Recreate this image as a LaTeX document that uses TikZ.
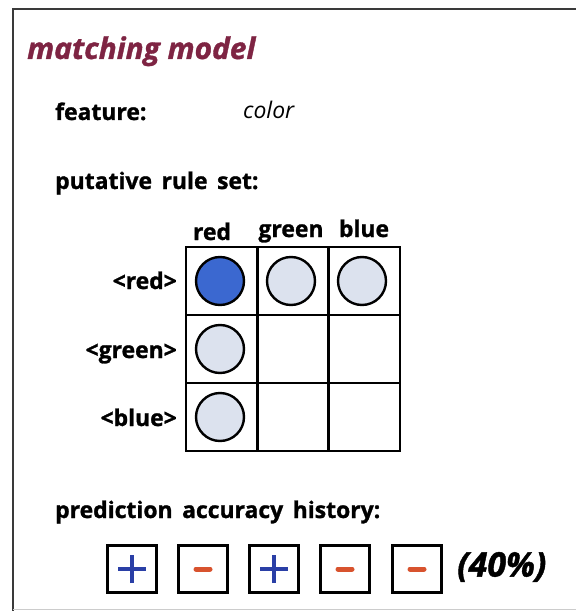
\documentclass[tikz,border=0pt]{standalone}
\usepackage{fontspec}
\setmainfont{Open Sans}
\newfontfamily\heavyfont[BoldFont={* Bold},BoldFeatures={FakeBold=1.2,WordSpace=1.6},BoldItalicFont={* Bold Italic},BoldItalicFeatures={FakeBold=1.2}]{Open Sans}
\definecolor{titlered}{HTML}{7E2443}
\definecolor{dotblue}{HTML}{3B68D0}
\definecolor{dotpale}{HTML}{DCE2EE}
\definecolor{plusblue}{HTML}{2A3FA6}
\definecolor{minusred}{HTML}{D8532E}
\definecolor{framegray}{HTML}{3A3A3A}
\begin{document}
\begin{tikzpicture}[x=1bp,y=-1bp,
  lbl/.style={inner sep=0pt,font=\heavyfont\bfseries\fontsize{23}{26}\selectfont},
  cell/.style={draw=black,line width=2.4bp,minimum width=72bp,minimum height=68bp,inner sep=0pt},
  dot/.style={circle,draw=black,line width=2.4bp,minimum size=48bp,inner sep=0pt,fill=dotpale},
  hbox/.style={draw=black,line width=2.4bp,minimum width=49bp,minimum height=47bp,inner sep=0pt}]
\useasboundingbox (0,0) rectangle (576,611);
% frame
\coordinate (ftl) at (13,9);
\coordinate (fbl) at (13,611);
\coordinate (ftr) at (576,9);
\coordinate (fbr) at (576,609);
\coordinate (fbl2) at (13,609);
\draw[framegray,line width=2.8bp] (fbl) -- (ftl) -- (ftr);
\draw[black!20,line width=1bp] (fbl2) -- (fbr);
% title
\node[anchor=base west,inner sep=0pt,text=titlered,font=\heavyfont\bfseries\itshape\fontsize{30}{32}\selectfont] (title) at (27,59) {matching model};
% feature
\node[lbl,anchor=base west] (feat) at (55,120) {feature:};
\node[anchor=base west,inner sep=0pt,font=\itshape\fontsize{23}{26}\selectfont] (color) at (243,119) {color};
% rule set
\node[lbl,anchor=base west] (rules) at (55,189) {putative rule set:};
% grid cells
\foreach \r/\yy in {1/281,2/349,3/417}{
  \foreach \c/\xx in {1/222,2/293,3/364}{
    \node[cell] (c\r\c) at (\xx,\yy) {};
  }
}
% headers
\node[lbl,anchor=base] (hred) at (212,240) {red};
\node[lbl,anchor=base] (hgreen) at (291,237) {green};
\node[lbl,anchor=base] (hblue) at (364,237) {blue};
% row labels
\node[lbl,anchor=base east] (rred) at (177,289) {<red>};
\node[lbl,anchor=base east] (rgreen) at (177,358) {<green>};
\node[lbl,anchor=base east] (rblue) at (177,426) {<blue>};
% dots
\node[dot,fill=dotblue] (d11) at ([xshift=-2bp]c11.center) {};
\node[dot] (d12) at ([xshift=-2bp]c12.center) {};
\node[dot] (d13) at ([xshift=-2bp]c13.center) {};
\node[dot] (d21) at ([xshift=-2bp]c21.center) {};
\node[dot] (d31) at ([xshift=-2bp]c31.center) {};
% history
\node[lbl,anchor=base west] (hist) at (55,518) {prediction accuracy history:};
\node[hbox] (b1) at (132,569) {};
\node[hbox] (b2) at (203,569) {};
\node[hbox] (b3) at (274,569) {};
\node[hbox] (b4) at (345,569) {};
\node[hbox] (b5) at (417,569) {};
\foreach \b in {b1,b3}{
  \draw[plusblue,line width=4.5bp] ([xshift=-14bp]\b.center) -- ([xshift=14bp]\b.center);
  \draw[plusblue,line width=4.5bp] ([yshift=-14bp]\b.center) -- ([yshift=14bp]\b.center);
}
\foreach \b in {b2,b4,b5}{
  \draw[minusred,line width=5bp,line cap=round] ([xshift=-7bp]\b.center) -- ([xshift=7bp]\b.center);
}
\node[anchor=west,inner sep=0pt,font=\heavyfont\bfseries\itshape\fontsize{34}{37}\selectfont] (pct) at (457,567) {(40\%)};
\end{tikzpicture}
\end{document}
